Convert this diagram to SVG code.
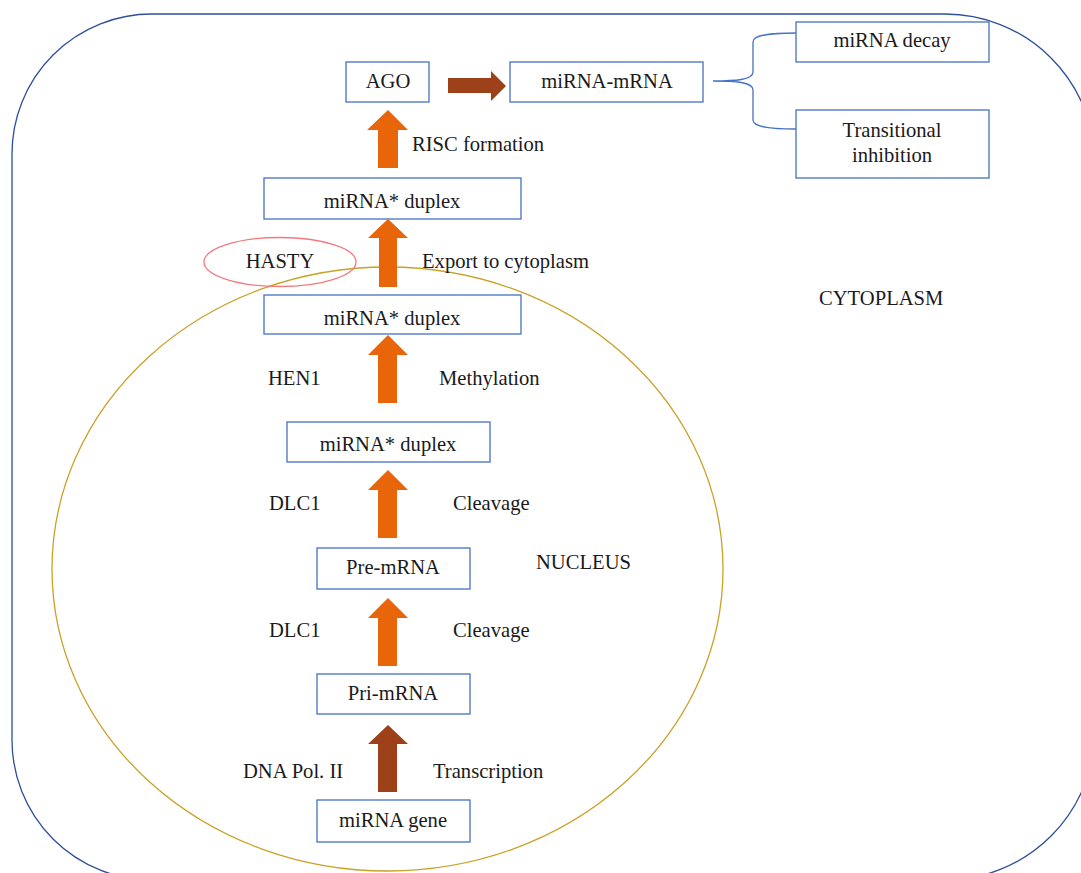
<svg xmlns="http://www.w3.org/2000/svg" width="1081" height="873" viewBox="0 0 1081 873">
<style>
.box{fill:#fff;stroke:#4472c4;stroke-width:1.3}
.t{font-family:"Liberation Serif","Times New Roman",serif;font-size:20.6px;fill:#1a1a1a}
.c{text-anchor:middle}
.or{fill:#e8650a}
.br{fill:#9c4119}
</style>
<rect width="1081" height="873" fill="#fff"/>
<path id="cytoplasm" d="M12,154 A140,140 0 0 1 152,14 H945 A150,150 0 0 1 1095,164 V730 A150,150 0 0 1 945,880 H152 A140,140 0 0 1 12,740 Z" fill="none" stroke="#2f4f9c" stroke-width="1.3"/>
<ellipse id="nucleus" cx="387.5" cy="569" rx="335.5" ry="302" fill="none" stroke="#c9a227" stroke-width="1.3"/>
<text class="t" x="819" y="305">CYTOPLASM</text>
<text class="t" x="536" y="569">NUCLEUS</text>
<g id="connectors">
<path class="br" d="M448,78 H491 V71 L506,86 L491,101 V93 H448 Z"/>
<path class="or" d="M378,168 V130 H367 L388,110 L408,130 H398 V168 Z"/>
<path class="or" d="M379,287 V238 H368 L388,219 L408,238 H397 V287 Z"/>
<path class="or" d="M378,403 V355 H368 L388,335 L408,355 H397 V403 Z"/>
<path class="or" d="M378,538 V490 H368 L388,470 L408,490 H397 V538 Z"/>
<path class="or" d="M378,666 V618 H368 L388,598 L408,618 H397 V666 Z"/>
<path class="br" d="M378,792 V744 H368 L388,725 L408,744 H397 V792 Z"/>
<path d="M713,81 C735,81 753,80 753,72 V42 C753,35 770,33 796,33 M713,81 C735,81 753,82 753,90 V120 C753,127 770,129 796,129" fill="none" stroke="#4472c4" stroke-width="1.3"/>
</g>
<g id="ago"><rect class="box" x="346" y="62" width="83" height="40"/><text class="t c" x="388" y="88">AGO</text></g>
<g id="mirna-mrna"><rect class="box" x="510" y="62" width="193" height="40"/><text class="t c" x="607" y="88">miRNA-mRNA</text></g>
<g id="decay"><rect class="box" x="796" y="22" width="193" height="40"/><text class="t c" x="892" y="47">miRNA decay</text></g>
<g id="inhibition"><rect class="box" x="796" y="110" width="193" height="68"/><text class="t c" x="892" y="137">Transitional</text><text class="t c" x="892" y="162">inhibition</text></g>
<text class="t" x="412" y="151">RISC formation</text>
<g id="duplex1"><rect class="box" x="264" y="178" width="257" height="41"/><text class="t c" x="392" y="208">miRNA* duplex</text></g>
<g id="hasty"><ellipse cx="280" cy="262" rx="76" ry="24.5" fill="none" stroke="#f27a7f" stroke-width="1.3"/><text class="t c" x="280" y="268">HASTY</text></g>
<text class="t" x="422" y="268">Export to cytoplasm</text>
<g id="duplex2"><rect class="box" x="264" y="295" width="257" height="39"/><text class="t c" x="392" y="325">miRNA* duplex</text></g>
<text class="t" x="268" y="385">HEN1</text>
<text class="t" x="439" y="385">Methylation</text>
<g id="duplex3"><rect class="box" x="287" y="422" width="203" height="40"/><text class="t c" x="388" y="451">miRNA* duplex</text></g>
<text class="t" x="269" y="510">DLC1</text>
<text class="t" x="453" y="510">Cleavage</text>
<g id="pre"><rect class="box" x="317" y="548" width="153" height="41"/><text class="t c" x="393" y="574">Pre-mRNA</text></g>
<text class="t" x="269" y="637">DLC1</text>
<text class="t" x="453" y="637">Cleavage</text>
<g id="pri"><rect class="box" x="317" y="674" width="153" height="40"/><text class="t c" x="393" y="700">Pri-mRNA</text></g>
<text class="t" x="243" y="778">DNA Pol. II</text>
<text class="t" x="433" y="778">Transcription</text>
<g id="gene"><rect class="box" x="317" y="800" width="153" height="42"/><text class="t c" x="393" y="827">miRNA gene</text></g>
</svg>
